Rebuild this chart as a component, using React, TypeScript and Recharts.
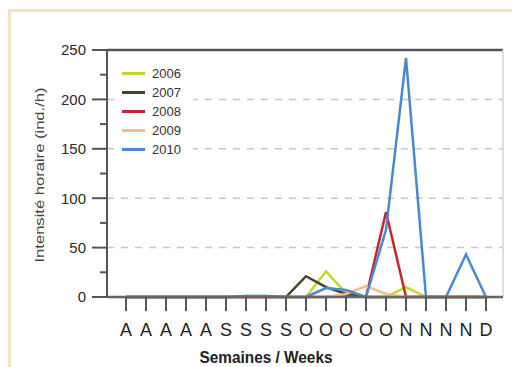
import React from "react";
import { LineChart, Line, XAxis, YAxis, ReferenceLine, Legend } from "recharts";

// weeks, Aug -> Dec
const weeks = ["A", "A", "A", "A", "A", "S", "S", "S", "S", "O", "O", "O", "O", "O", "N", "N", "N", "N", "D"];

const y2006 = [0, 0, 0, 0, 0, 0, 1, 1, 0, 0, 26, 4, 0, 0, 10, 0, 0, 0, 0];
const y2007 = [0, 0, 0, 0, 0, 0, 0, 0, 0, 21, 10, 3, 0, 0, 0, 0, 0, 0, 0];
const y2008 = [0, 0, 0, 0, 0, 0, 0, 0, 0, 0, 0, 1, 0, 86, 0, 0, 0, 0, 0];
const y2009 = [0, 0, 0, 0, 0, 0, 0, 0, 0, 0, 0, 3, 11, 3, 0, 0, 0, 0, 0];
const y2010 = [0, 0, 0, 0, 0, 0, 1, 1, 0, 0, 9, 7, 0, 68, 242, 0, 0, 43, 0];

const yTicks = [0, 25, 50, 75, 100, 125, 150, 175, 200, 225, 250];
const yMajor = [0, 50, 100, 150, 200, 250];
const gridValues = [50, 100, 150, 200];

const series = [
  { key: "2006", values: y2006, color: "#c4d52e" },
  { key: "2007", values: y2007, color: "#3b4a24" },
  { key: "2008", values: y2008, color: "#c1272d" },
  { key: "2009", values: y2009, color: "#f2bd8b" },
  { key: "2010", values: y2010, color: "#4a88cf" },
];

const data = weeks.map((w, i) => {
  const row: any = { week: i };
  series.forEach((s) => (row[s.key] = s.values[i]));
  return row;
});
const xTicks = weeks.map((_, i) => i);

const FONT = "'Liberation Sans', Arial, sans-serif";
const TICK = 15;
const MARGIN = 6;

const YTick = (props: any) => {
  const { x, y, payload } = props;
  const major = yMajor.includes(payload.value);
  const axisX = x + TICK + MARGIN;
  return (
    <g>
      <line x1={axisX - (major ? TICK : 7)} x2={axisX} y1={y} y2={y} stroke="#555" strokeWidth={2} />
      {major && (
        <text x={x} y={y} dy="0.36em" textAnchor="end" fontSize={15} fill="#2a2a2a" fontFamily={FONT}>
          {payload.value}
        </text>
      )}
    </g>
  );
};

const LegendBox = () => (
  <div style={{ background: "#fff", paddingTop: 4, width: 78, fontFamily: FONT }}>
    {series.map((s) => (
      <div key={s.key} style={{ height: 19, display: "flex", alignItems: "center" }}>
        <div style={{ marginLeft: 7, width: 23, height: 3, background: s.color }} />
        <span style={{ marginLeft: 7, fontSize: 13, color: "#333" }}>{s.key}</span>
      </div>
    ))}
  </div>
);

export default function App() {
  return (
    <div style={{ position: "relative", width: 512, height: 367, background: "#fff" }}>
      <style>{"body{margin:0;overflow:hidden}"}</style>
      <div
        style={{
          position: "absolute",
          left: 8,
          top: 9,
          right: 0,
          bottom: 0,
          borderTop: "3px solid #f3e4c9",
          borderLeft: "3px solid #f3e4c9",
        }}
      />
      <div style={{ position: "absolute", left: 0, top: 0 }}>
        <LineChart width={512} height={367} data={data} margin={{ top: 50, right: 9, bottom: 0, left: 11 }}>
          {gridValues.map((v) => (
            <ReferenceLine key={v} y={v} stroke="#c6c6c6" strokeWidth={1.5} strokeDasharray="7 7" />
          ))}
          <ReferenceLine y={250} stroke="#555" strokeWidth={2.5} />
          <ReferenceLine x={18.85} stroke="#d4d4d4" strokeWidth={1.5} />
          <XAxis
            dataKey="week"
            type="number"
            domain={[-0.95, 18.85]}
            ticks={xTicks}
            tickFormatter={(v: number) => weeks[v]}
            height={70}
            tickSize={14}
            tickMargin={12}
            axisLine={{ stroke: "#666", strokeWidth: 2.5 }}
            tickLine={{ stroke: "#555", strokeWidth: 2 }}
            tick={{ fontSize: 18, fill: "#222", fontFamily: FONT }}
            label={(p: any) => {
              const vb = p.viewBox;
              return (
                <text
                  x={vb.x + 159}
                  y={vb.y + 66}
                  textAnchor="middle"
                  fontSize={16}
                  fontWeight="bold"
                  fill="#222"
                  fontFamily="'Liberation Sans Narrow', 'Liberation Sans', Arial"
                  textLength={133}
                  lengthAdjust="spacingAndGlyphs"
                >
                  Semaines / Weeks
                </text>
              );
            }}
          />
          <YAxis
            domain={[0, 250]}
            ticks={yTicks}
            interval={0}
            width={96}
            tickSize={TICK}
            tickMargin={MARGIN}
            tickLine={false}
            axisLine={{ stroke: "#555", strokeWidth: 2 }}
            tick={<YTick />}
            label={(p: any) => {
              const vb = p.viewBox;
              const cx = vb.x + 28.5;
              const cy = vb.y + vb.height / 2 + 1.5;
              return (
                <text
                  x={cx}
                  y={cy}
                  transform={`rotate(-90 ${cx} ${cy})`}
                  textAnchor="middle"
                  dominantBaseline="central"
                  fontSize={13}
                  fill="#444"
                  fontFamily={FONT}
                  textLength={175}
                  lengthAdjust="spacingAndGlyphs"
                >
                  Intensité horaire (ind./h)
                </text>
              );
            }}
          />
          <Legend
            layout="horizontal"
            verticalAlign="middle"
            align="center"
            content={() => <LegendBox />}
            wrapperStyle={{ left: 115, top: 60, width: 78, height: 100 }}
          />
          {series.map((s) => (
            <Line
              key={s.key}
              dataKey={s.key}
              stroke={s.color}
              strokeWidth={2.5}
              dot={false}
              activeDot={false}
              type="linear"
              isAnimationActive={false}
            />
          ))}
        </LineChart>
      </div>
    </div>
  );
}
